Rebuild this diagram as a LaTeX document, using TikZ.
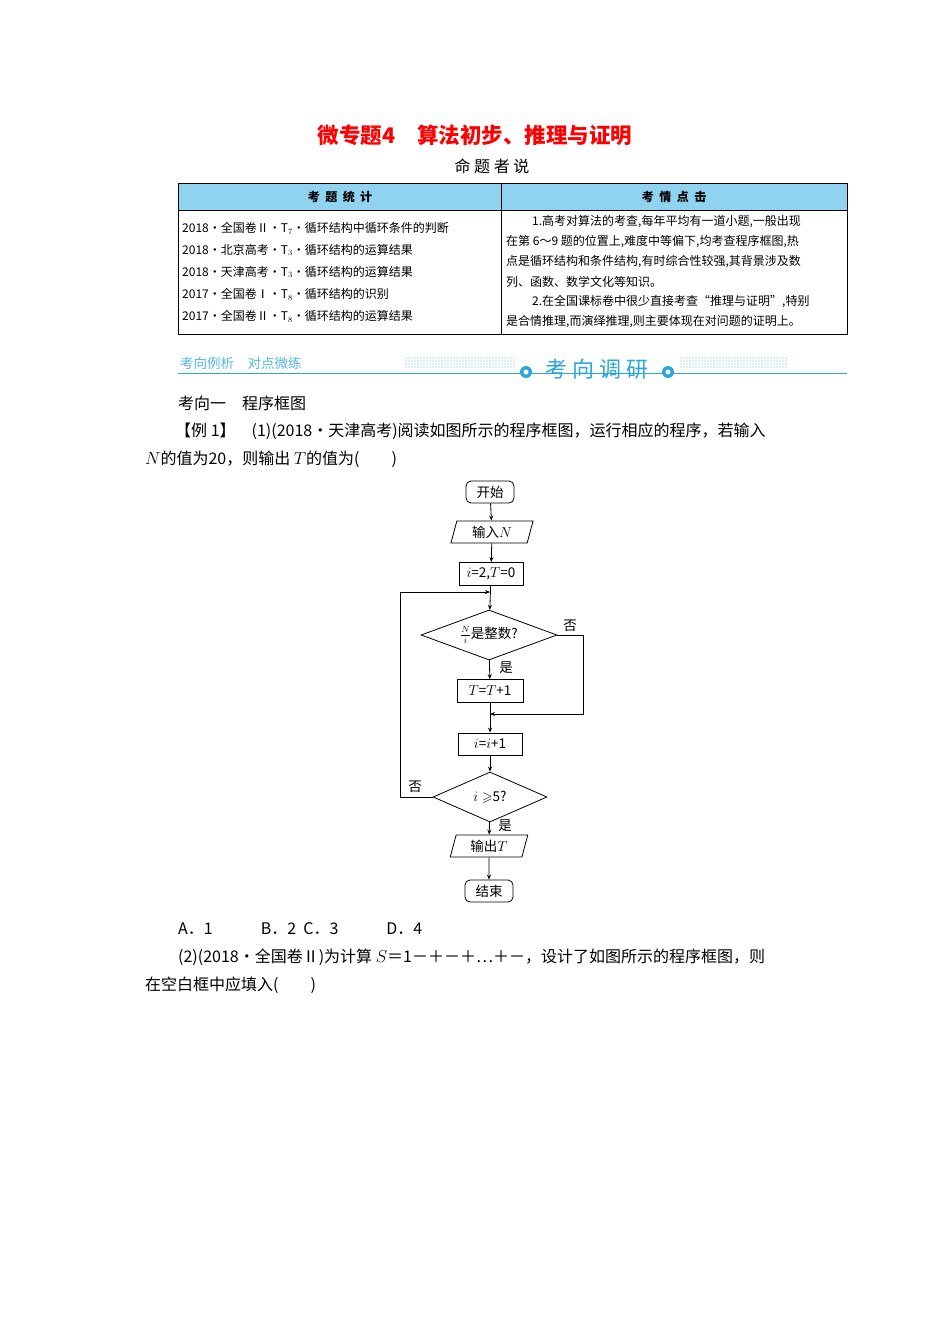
\documentclass[tikz,border=0pt]{standalone}
\usepackage{amssymb}
\usepackage{fontspec}
\usetikzlibrary{shapes.geometric,arrows.meta}
\newfontfamily\cjk{Noto Sans CJK SC}
\setmainfont{Liberation Serif}
\definecolor{hdr}{HTML}{8FD3F0}
\definecolor{bl}{HTML}{2AA6DC}
\begin{document}
\begin{tikzpicture}[x=1pt,y=-1pt,
  t/.style={inner sep=0pt,font=\cjk\fontsize{16}{16}\selectfont},
  tl/.style={t,anchor=west},
  sm/.style={inner sep=0pt,anchor=west,font=\cjk\fontsize{12}{12}\selectfont},
  fbox/.style={draw,thick,inner sep=0pt,font=\cjk\fontsize{13.5}{13.5}\selectfont},
  term/.style={fbox,rounded corners=5pt,minimum width=48pt,minimum height=22pt},
  io/.style={fbox,trapezium,trapezium left angle=75,trapezium right angle=105,minimum width=52pt,minimum height=22pt},
  proc/.style={fbox,minimum width=64pt,minimum height=23pt},
  dec/.style={fbox,diamond,aspect=2.7},
  arr/.style={thick,-{Stealth[length=5pt,width=4pt]}},
  lbl/.style={inner sep=0pt,font=\cjk\fontsize{13.5}{13.5}\selectfont}]
\useasboundingbox (0,0) rectangle (950,1344);
\fill[white] (0,0) rectangle (950,1344);
% title
\node[inner sep=0pt,text=red,font=\cjk\fontsize{21.5}{21.5}\selectfont\bfseries] at (475,135) {微专题4\quad 算法初步、推理与证明};
\node[t] at (492,166) {命\ 题\ 者\ 说};
% table
\fill[hdr] (178,183) rectangle (847,210);
\draw[thick] (178,183) rectangle (847,334);
\draw (178,210) -- (847,210);
\draw (501,183) -- (501,334);
\node[inner sep=0pt,font=\cjk\fontsize{12}{12}\selectfont\bfseries] at (340,197) {考\ \ 题\ \ 统\ \ 计};
\node[inner sep=0pt,font=\cjk\fontsize{12}{12}\selectfont\bfseries] at (674,197) {考\ \ 情\ \ 点\ \ 击};
\node[sm] at (182,228) {2018・全国卷Ⅱ・T$_7$・循环结构中循环条件的判断};
\node[sm] at (182,250) {2018・北京高考・T$_3$・循环结构的运算结果};
\node[sm] at (182,272) {2018・天津高考・T$_3$・循环结构的运算结果};
\node[sm] at (182,294) {2017・全国卷Ⅰ・T$_8$・循环结构的识别};
\node[sm] at (182,316) {2017・全国卷Ⅱ・T$_8$・循环结构的运算结果};
\node[sm] at (532,222) {1.高考对算法的考查,每年平均有一道小题,一般出现};
\node[sm] at (506,242) {在第 6～9 题的位置上,难度中等偏下,均考查程序框图,热};
\node[sm] at (506,262) {点是循环结构和条件结构,有时综合性较强,其背景涉及数};
\node[sm] at (506,282) {列、函数、数学文化等知识。};
\node[sm] at (532,302) {2.在全国课标卷中很少直接考查“推理与证明”,特别};
\node[sm] at (506,322) {是合情推理,而演绎推理,则主要体现在对问题的证明上。};
% banner
\draw[bl,thick] (178,373) -- (847,373);
\node[inner sep=0pt,anchor=west,font=\cjk\fontsize{13.5}{13.5}\selectfont,text=bl!80] at (180,363) {考向例析\quad 对点微练};
\foreach \x in {406,409,...,514} {\foreach \y in {358,361,364,367} {\fill[bl!70] (\x,\y) circle (0.7);}}
\foreach \x in {681,684,...,788} {\foreach \y in {358,361,364,367} {\fill[bl!70] (\x,\y) circle (0.7);}}
\fill[bl] (526,372) circle (6); \fill[white] (526,372) circle (2.5);
\fill[bl] (668,372) circle (6); \fill[white] (668,372) circle (2.5);
\node[inner sep=0pt,text=bl,font=\cjk\fontsize{22}{22}\selectfont] at (597,369) {考\ 向\ 调\ 研};
% body text
\node[tl] at (178,403) {考向一\quad 程序框图};
\node[tl] at (175,431) {【例 1】\quad (1)(2018・天津高考)阅读如图所示的程序框图，运行相应的程序，若输入};
\node[tl] at (145,459) {$N$的值为20，则输出 $T$的值为(\qquad)};
\node[tl] at (178,929) {A．1\qquad\quad B．2\ \ C．3\qquad\quad D．4};
\node[tl] at (178,957) {(2)(2018・全国卷Ⅱ)为计算 $S$＝1－＋－＋…＋－，设计了如图所示的程序框图，则};
\node[tl] at (145,985) {在空白框中应填入(\qquad)};
% flowchart
\node[term] (s) at (490,492) {开始};
\node[io] (in) at (492,532) {输入$N$};
\node[proc] (init) at (491,574) {$i$=2,$T$=0};
\coordinate (j1) at (490,592);
\node[dec,minimum width=136pt,minimum height=50pt] (d1) at (489,635) {$\frac{N}{i}$是整数?};
\node[proc,minimum width=66pt] (tt) at (490,691) {$T$=$T$+1};
\coordinate (j2) at (490,714);
\node[proc,minimum height=22pt] (ii) at (490,744) {$i$=$i$+1};
\node[dec,minimum width=114pt,minimum height=50pt] (d2) at (490,797) {$i\geqslant$5?};
\node[io] (out) at (489,846) {输出$T$};
\node[term] (e) at (489,891) {结束};
\draw[arr] (s) -- (in);
\draw[arr] (in) -- (init);
\draw[arr] (init) -- (d1);
\draw[arr] (d1) -- (tt);
\draw[arr] (tt) -- (ii);
\draw[arr] (ii) -- (d2);
\draw[arr] (d2) -- (out);
\draw[arr] (out) -- (e);
\draw[arr] (d1.east) -- (583,635) -- (583,714) -- (j2);
\draw[arr] (d2.west) -- (400,797) -- (400,592) -- (j1);
\node[lbl] at (570,626) {否};
\node[lbl] at (506,668) {是};
\node[lbl] at (415,787) {否};
\node[lbl] at (505,826) {是};
\end{tikzpicture}
\end{document}
